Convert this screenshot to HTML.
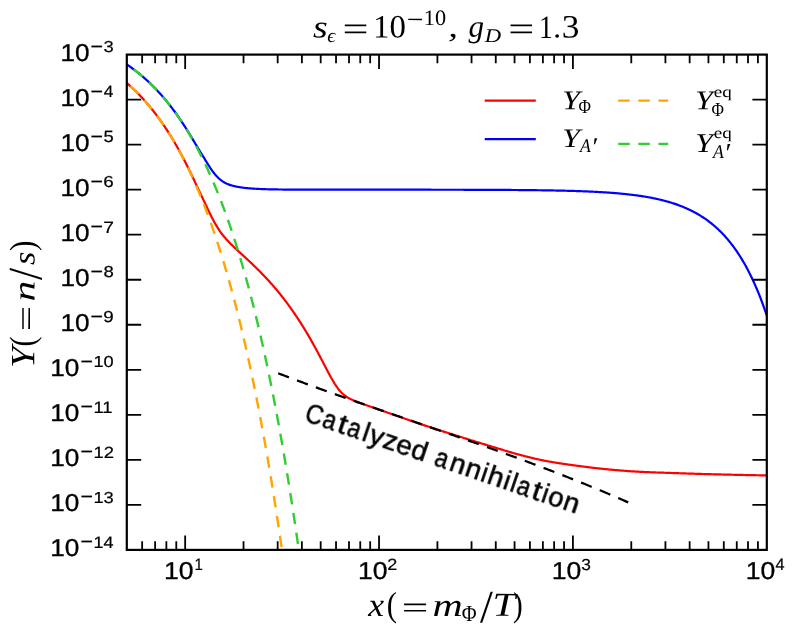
<!DOCTYPE html>
<html><head><meta charset="utf-8"><title>Y vs x</title>
<style>html,body{margin:0;padding:0;background:#fff;}svg{display:block;}body{font-family:"Liberation Sans",sans-serif;}text{text-rendering:geometricPrecision;}</style></head>
<body>
<svg width="798" height="635" viewBox="0 0 798 635">
<rect width="798" height="635" fill="#fff"/>
<defs><clipPath id="ax"><rect x="126.8" y="54.6" width="640.0" height="495.29999999999995"/></clipPath></defs>
<g clip-path="url(#ax)" fill="none" stroke-linejoin="round">
<path d="M126.80 83.07 L127.52 83.69 L128.23 84.31 L128.95 84.94 L129.66 85.58 L130.38 86.22 L131.09 86.87 L131.81 87.53 L132.52 88.20 L133.24 88.87 L133.96 89.55 L134.67 90.24 L135.39 90.93 L136.10 91.64 L136.82 92.35 L137.53 93.06 L138.25 93.79 L138.96 94.52 L139.68 95.26 L140.40 96.01 L141.11 96.77 L141.83 97.53 L142.54 98.30 L143.26 99.09 L143.97 99.88 L144.69 100.67 L145.40 101.48 L146.12 102.29 L146.84 103.12 L147.55 103.95 L148.27 104.79 L148.98 105.64 L149.70 106.50 L150.41 107.36 L151.13 108.24 L151.85 109.12 L152.56 110.02 L153.28 110.92 L153.99 111.83 L154.71 112.76 L155.42 113.69 L156.14 114.63 L156.85 115.58 L157.57 116.54 L158.29 117.51 L159.00 118.49 L159.72 119.49 L160.43 120.49 L161.15 121.50 L161.86 122.52 L162.58 123.55 L163.29 124.59 L164.01 125.64 L164.73 126.71 L165.44 127.78 L166.16 128.87 L166.87 129.96 L167.59 131.07 L168.30 132.19 L169.02 133.31 L169.73 134.45 L170.45 135.61 L171.17 136.77 L171.88 137.94 L172.60 139.13 L173.31 140.32 L174.03 141.53 L174.74 142.75 L175.46 143.98 L176.17 145.23 L176.89 146.48 L177.61 147.75 L178.32 149.03 L179.04 150.32 L179.75 151.62 L180.47 152.94 L181.18 154.27 L181.90 155.60 L182.61 156.96 L183.33 158.32 L184.05 159.69 L184.76 161.08 L185.48 162.48 L186.19 163.89 L186.91 165.31 L187.62 166.74 L188.34 168.18 L189.06 169.63 L189.77 171.10 L190.49 172.57 L191.20 174.05 L191.92 175.54 L192.63 177.04 L193.35 178.54 L194.06 180.06 L194.78 181.57 L195.50 183.10 L196.21 184.62 L196.93 186.15 L197.64 187.67 L198.36 189.20 L199.07 190.72 L199.79 192.24 L200.50 193.74 L201.22 195.24 L201.94 196.73 L202.65 198.20 L203.37 199.65 L204.08 201.11 L204.80 202.67 L205.51 204.23 L206.23 205.78 L206.94 207.32 L207.66 208.85 L208.38 210.36 L209.09 211.85 L209.81 213.33 L210.52 214.78 L211.24 216.21 L211.95 217.62 L212.67 219.00 L213.38 220.35 L214.10 221.67 L214.82 222.96 L215.53 224.21 L216.25 225.43 L216.96 226.62 L217.68 227.77 L218.39 228.89 L219.11 229.98 L219.82 231.03 L220.54 232.04 L221.26 233.03 L221.97 233.99 L222.69 234.92 L223.40 235.82 L224.12 236.70 L224.83 237.55 L225.55 238.38 L226.26 239.19 L226.98 239.98 L227.70 240.76 L228.41 241.52 L229.13 242.26 L229.84 242.99 L230.56 243.72 L231.27 244.43 L231.99 245.13 L232.71 245.83 L233.42 246.51 L234.14 247.20 L234.85 247.87 L235.57 248.54 L236.28 249.21 L237.00 249.88 L237.71 250.54 L238.43 251.20 L239.15 251.86 L239.86 252.52 L240.58 253.18 L241.29 253.83 L242.01 254.49 L242.72 255.14 L243.44 255.80 L244.15 256.46 L244.87 257.12 L245.59 257.78 L246.30 258.44 L247.02 259.10 L247.73 259.77 L248.45 260.44 L249.16 261.10 L249.88 261.78 L250.59 262.45 L251.31 263.13 L252.03 263.81 L252.74 264.49 L253.46 265.18 L254.17 265.87 L254.89 266.56 L255.60 267.26 L256.32 267.96 L257.03 268.66 L257.75 269.37 L258.47 270.08 L259.18 270.80 L259.90 271.52 L260.61 272.25 L261.33 272.98 L262.04 273.71 L262.76 274.45 L263.47 275.20 L264.19 275.95 L264.91 276.70 L265.62 277.46 L266.34 278.23 L267.05 279.00 L267.77 279.78 L268.48 280.56 L269.20 281.35 L269.92 282.14 L270.63 282.94 L271.35 283.75 L272.06 284.56 L272.78 285.38 L273.49 286.20 L274.21 287.03 L274.92 287.87 L275.64 288.71 L276.36 289.56 L277.07 290.42 L277.79 291.28 L278.50 292.15 L279.22 293.03 L279.93 293.91 L280.65 294.80 L281.36 295.70 L282.08 296.61 L282.80 297.52 L283.51 298.44 L284.23 299.37 L284.94 300.30 L285.66 301.24 L286.37 302.19 L287.09 303.15 L287.80 304.12 L288.52 305.09 L289.24 306.07 L289.95 307.06 L290.67 308.06 L291.38 309.07 L292.10 310.08 L292.81 311.11 L293.53 312.14 L294.24 313.18 L294.96 314.23 L295.68 315.28 L296.39 316.35 L297.11 317.42 L297.82 318.51 L298.54 319.60 L299.25 320.70 L299.97 321.81 L300.68 322.93 L301.40 324.06 L302.12 325.20 L302.83 326.35 L303.55 327.50 L304.26 328.67 L304.98 329.84 L305.69 331.03 L306.41 332.22 L307.13 333.42 L307.84 334.64 L308.56 335.86 L309.27 337.09 L309.99 338.33 L310.70 339.58 L311.42 340.84 L312.13 342.11 L312.85 343.39 L313.57 344.67 L314.28 345.97 L315.00 347.27 L315.71 348.58 L316.43 349.90 L317.14 351.23 L317.86 352.57 L318.57 353.91 L319.29 355.26 L320.01 356.61 L320.72 357.97 L321.44 359.34 L322.15 360.71 L322.87 362.08 L323.58 363.45 L324.30 364.83 L325.01 366.20 L325.73 367.57 L326.45 368.94 L327.16 370.30 L327.88 371.65 L328.59 373.00 L329.31 374.33 L330.02 375.65 L330.74 376.95 L331.45 378.23 L332.17 379.49 L332.89 380.72 L333.60 381.93 L334.32 383.10 L335.03 384.24 L335.75 385.34 L336.46 386.40 L337.18 387.42 L337.89 388.39 L338.61 389.32 L339.33 390.21 L340.04 391.05 L340.76 391.85 L341.47 392.60 L342.19 393.30 L342.90 393.97 L343.62 394.60 L344.33 395.18 L345.05 395.74 L345.77 396.25 L346.48 396.74 L347.20 397.20 L347.91 397.64 L348.63 398.05 L349.34 398.44 L350.06 398.81 L350.78 399.17 L351.49 399.51 L352.21 399.84 L352.92 400.16 L353.64 400.47 L354.35 400.76 L355.07 401.06 L355.78 401.34 L356.50 401.62 L357.22 401.89 L357.93 402.16 L358.65 402.43 L359.36 402.69 L360.08 402.95 L360.79 403.21 L361.51 403.47 L362.22 403.73 L362.94 403.98 L363.66 404.23 L364.37 404.48 L365.09 404.73 L365.80 404.98 L366.52 405.23 L367.23 405.48 L367.95 405.73 L368.66 405.98 L369.38 406.23 L370.10 406.47 L370.81 406.72 L371.53 406.97 L372.24 407.22 L372.96 407.46 L373.67 407.71 L374.39 407.96 L375.10 408.21 L375.82 408.45 L376.54 408.70 L377.25 408.95 L377.97 409.20 L378.68 409.44 L379.40 409.69 L380.11 409.94 L380.83 410.19 L381.54 410.44 L382.26 410.68 L382.98 410.93 L383.69 411.18 L384.41 411.43 L385.12 411.68 L385.84 411.93 L386.55 412.18 L387.27 412.43 L387.99 412.68 L388.70 412.93 L389.42 413.18 L390.13 413.43 L390.85 413.69 L391.56 413.94 L392.28 414.19 L392.99 414.44 L393.71 414.69 L394.43 414.94 L395.14 415.19 L395.86 415.44 L396.57 415.69 L397.29 415.95 L398.00 416.20 L398.72 416.45 L399.43 416.70 L400.15 416.95 L400.87 417.20 L401.58 417.45 L402.30 417.70 L403.01 417.95 L403.73 418.20 L404.44 418.45 L405.16 418.71 L405.87 418.96 L406.59 419.21 L407.31 419.45 L408.02 419.70 L408.74 419.95 L409.45 420.20 L410.17 420.45 L410.88 420.70 L411.60 420.95 L412.31 421.20 L413.03 421.44 L413.75 421.69 L414.46 421.94 L415.18 422.19 L415.89 422.43 L416.61 422.68 L417.32 422.92 L418.04 423.17 L418.75 423.41 L419.47 423.66 L420.19 423.90 L420.90 424.15 L421.62 424.39 L422.33 424.63 L423.05 424.87 L423.76 425.12 L424.48 425.36 L425.19 425.60 L425.91 425.84 L426.63 426.08 L427.34 426.32 L428.06 426.56 L428.77 426.79 L429.49 427.03 L430.20 427.27 L430.92 427.50 L431.64 427.74 L432.35 427.97 L433.07 428.21 L433.78 428.44 L434.50 428.67 L435.21 428.90 L435.93 429.13 L436.64 429.36 L437.36 429.59 L438.08 429.82 L438.79 430.05 L439.51 430.28 L440.22 430.50 L440.94 430.73 L441.65 430.96 L442.37 431.18 L443.08 431.41 L443.80 431.64 L444.52 431.86 L445.23 432.09 L445.95 432.32 L446.66 432.54 L447.38 432.77 L448.09 433.00 L448.81 433.22 L449.52 433.45 L450.24 433.68 L450.96 433.90 L451.67 434.13 L452.39 434.36 L453.10 434.58 L453.82 434.81 L454.53 435.04 L455.25 435.27 L455.96 435.49 L456.68 435.72 L457.40 435.94 L458.11 436.17 L458.83 436.40 L459.54 436.62 L460.26 436.85 L460.97 437.07 L461.69 437.30 L462.40 437.53 L463.12 437.75 L463.84 437.98 L464.55 438.20 L465.27 438.42 L465.98 438.65 L466.70 438.87 L467.41 439.10 L468.13 439.32 L468.85 439.54 L469.56 439.76 L470.28 439.99 L470.99 440.21 L471.71 440.43 L472.42 440.65 L473.14 440.87 L473.85 441.09 L474.57 441.32 L475.29 441.54 L476.00 441.76 L476.72 441.98 L477.43 442.20 L478.15 442.42 L478.86 442.64 L479.58 442.86 L480.29 443.08 L481.01 443.30 L481.73 443.52 L482.44 443.74 L483.16 443.95 L483.87 444.17 L484.59 444.39 L485.30 444.61 L486.02 444.83 L486.73 445.05 L487.45 445.26 L488.17 445.48 L488.88 445.70 L489.60 445.91 L490.31 446.13 L491.03 446.35 L491.74 446.56 L492.46 446.78 L493.17 446.99 L493.89 447.21 L494.61 447.42 L495.32 447.64 L496.04 447.85 L496.75 448.07 L497.47 448.28 L498.18 448.50 L498.90 448.72 L499.61 448.94 L500.33 449.15 L501.05 449.37 L501.76 449.59 L502.48 449.81 L503.19 450.03 L503.91 450.24 L504.62 450.46 L505.34 450.68 L506.06 450.90 L506.77 451.11 L507.49 451.33 L508.20 451.54 L508.92 451.76 L509.63 451.97 L510.35 452.18 L511.06 452.39 L511.78 452.60 L512.50 452.81 L513.21 453.02 L513.93 453.22 L514.64 453.43 L515.36 453.63 L516.07 453.83 L516.79 454.03 L517.50 454.23 L518.22 454.42 L518.94 454.61 L519.65 454.80 L520.37 454.99 L521.08 455.18 L521.80 455.36 L522.51 455.55 L523.23 455.73 L523.94 455.92 L524.66 456.10 L525.38 456.28 L526.09 456.47 L526.81 456.65 L527.52 456.83 L528.24 457.01 L528.95 457.19 L529.67 457.36 L530.38 457.54 L531.10 457.72 L531.82 457.89 L532.53 458.06 L533.25 458.23 L533.96 458.40 L534.68 458.57 L535.39 458.74 L536.11 458.90 L536.82 459.07 L537.54 459.23 L538.26 459.39 L538.97 459.54 L539.69 459.70 L540.40 459.85 L541.12 460.00 L541.83 460.15 L542.55 460.30 L543.26 460.44 L543.98 460.59 L544.70 460.73 L545.41 460.86 L546.13 461.00 L546.84 461.13 L547.56 461.26 L548.27 461.40 L548.99 461.52 L549.71 461.65 L550.42 461.78 L551.14 461.90 L551.85 462.03 L552.57 462.15 L553.28 462.27 L554.00 462.39 L554.71 462.50 L555.43 462.62 L556.15 462.74 L556.86 462.85 L557.58 462.96 L558.29 463.08 L559.01 463.19 L559.72 463.30 L560.44 463.41 L561.15 463.52 L561.87 463.62 L562.59 463.73 L563.30 463.83 L564.02 463.94 L564.73 464.04 L565.45 464.15 L566.16 464.25 L566.88 464.35 L567.59 464.45 L568.31 464.55 L569.03 464.65 L569.74 464.75 L570.46 464.85 L571.17 464.95 L571.89 465.05 L572.60 465.14 L573.32 465.24 L574.03 465.34 L574.75 465.44 L575.47 465.53 L576.18 465.63 L576.90 465.73 L577.61 465.82 L578.33 465.92 L579.04 466.01 L579.76 466.11 L580.47 466.20 L581.19 466.29 L581.91 466.39 L582.62 466.48 L583.34 466.57 L584.05 466.66 L584.77 466.76 L585.48 466.85 L586.20 466.94 L586.92 467.03 L587.63 467.12 L588.35 467.21 L589.06 467.29 L589.78 467.38 L590.49 467.47 L591.21 467.55 L591.92 467.64 L592.64 467.73 L593.36 467.81 L594.07 467.89 L594.79 467.98 L595.50 468.06 L596.22 468.14 L596.93 468.22 L597.65 468.30 L598.36 468.38 L599.08 468.46 L599.80 468.54 L600.51 468.62 L601.23 468.69 L601.94 468.77 L602.66 468.85 L603.37 468.92 L604.09 468.99 L604.80 469.06 L605.52 469.14 L606.24 469.21 L606.95 469.28 L607.67 469.35 L608.38 469.41 L609.10 469.48 L609.81 469.55 L610.53 469.61 L611.24 469.68 L611.96 469.74 L612.68 469.80 L613.39 469.87 L614.11 469.93 L614.82 469.99 L615.54 470.06 L616.25 470.12 L616.97 470.18 L617.68 470.24 L618.40 470.30 L619.12 470.36 L619.83 470.42 L620.55 470.48 L621.26 470.54 L621.98 470.60 L622.69 470.65 L623.41 470.71 L624.12 470.77 L624.84 470.82 L625.56 470.88 L626.27 470.93 L626.99 470.98 L627.70 471.04 L628.42 471.09 L629.13 471.14 L629.85 471.19 L630.57 471.24 L631.28 471.29 L632.00 471.33 L632.71 471.38 L633.43 471.43 L634.14 471.47 L634.86 471.52 L635.57 471.56 L636.29 471.60 L637.01 471.64 L637.72 471.68 L638.44 471.72 L639.15 471.76 L639.87 471.79 L640.58 471.83 L641.30 471.86 L642.01 471.90 L642.73 471.93 L643.45 471.96 L644.16 472.00 L644.88 472.03 L645.59 472.06 L646.31 472.09 L647.02 472.12 L647.74 472.15 L648.45 472.18 L649.17 472.21 L649.89 472.24 L650.60 472.27 L651.32 472.29 L652.03 472.32 L652.75 472.35 L653.46 472.38 L654.18 472.40 L654.89 472.43 L655.61 472.45 L656.33 472.48 L657.04 472.50 L657.76 472.53 L658.47 472.55 L659.19 472.58 L659.90 472.60 L660.62 472.63 L661.33 472.65 L662.05 472.67 L662.77 472.70 L663.48 472.72 L664.20 472.74 L664.91 472.77 L665.63 472.79 L666.34 472.81 L667.06 472.84 L667.78 472.86 L668.49 472.88 L669.21 472.91 L669.92 472.93 L670.64 472.95 L671.35 472.98 L672.07 473.00 L672.78 473.03 L673.50 473.05 L674.22 473.07 L674.93 473.10 L675.65 473.12 L676.36 473.15 L677.08 473.17 L677.79 473.20 L678.51 473.22 L679.22 473.24 L679.94 473.27 L680.66 473.29 L681.37 473.32 L682.09 473.34 L682.80 473.37 L683.52 473.39 L684.23 473.41 L684.95 473.44 L685.66 473.46 L686.38 473.49 L687.10 473.51 L687.81 473.53 L688.53 473.56 L689.24 473.58 L689.96 473.60 L690.67 473.63 L691.39 473.65 L692.10 473.67 L692.82 473.70 L693.54 473.72 L694.25 473.74 L694.97 473.77 L695.68 473.79 L696.40 473.81 L697.11 473.83 L697.83 473.85 L698.54 473.88 L699.26 473.90 L699.98 473.92 L700.69 473.94 L701.41 473.96 L702.12 473.98 L702.84 474.00 L703.55 474.02 L704.27 474.05 L704.99 474.07 L705.70 474.09 L706.42 474.10 L707.13 474.12 L707.85 474.14 L708.56 474.16 L709.28 474.18 L709.99 474.20 L710.71 474.22 L711.43 474.24 L712.14 474.25 L712.86 474.27 L713.57 474.29 L714.29 474.31 L715.00 474.33 L715.72 474.34 L716.43 474.36 L717.15 474.38 L717.87 474.40 L718.58 474.42 L719.30 474.43 L720.01 474.45 L720.73 474.47 L721.44 474.49 L722.16 474.50 L722.87 474.52 L723.59 474.54 L724.31 474.56 L725.02 474.57 L725.74 474.59 L726.45 474.61 L727.17 474.62 L727.88 474.64 L728.60 474.66 L729.31 474.67 L730.03 474.69 L730.75 474.71 L731.46 474.72 L732.18 474.74 L732.89 474.75 L733.61 474.77 L734.32 474.79 L735.04 474.80 L735.75 474.82 L736.47 474.83 L737.19 474.85 L737.90 474.87 L738.62 474.88 L739.33 474.90 L740.05 474.91 L740.76 474.93 L741.48 474.94 L742.19 474.96 L742.91 474.97 L743.63 474.99 L744.34 475.00 L745.06 475.01 L745.77 475.03 L746.49 475.04 L747.20 475.06 L747.92 475.07 L748.64 475.09 L749.35 475.10 L750.07 475.11 L750.78 475.13 L751.50 475.14 L752.21 475.15 L752.93 475.17 L753.64 475.18 L754.36 475.19 L755.08 475.21 L755.79 475.22 L756.51 475.23 L757.22 475.24 L757.94 475.26 L758.65 475.27 L759.37 475.28 L760.08 475.29 L760.80 475.31 L761.52 475.32 L762.23 475.33 L762.95 475.34 L763.66 475.35 L764.38 475.36 L765.09 475.37 L765.81 475.39 L766.52 475.40 L767.24 475.41 L767.96 475.42 L768.67 475.43 L769.39 475.44 L770.10 475.45" stroke="#ff0000" stroke-width="2.2"/>
<path d="M126.80 64.50 L127.52 64.98 L128.23 65.47 L128.95 65.96 L129.66 66.46 L130.38 66.96 L131.09 67.47 L131.81 67.99 L132.52 68.51 L133.24 69.04 L133.96 69.57 L134.67 70.11 L135.39 70.66 L136.10 71.21 L136.82 71.76 L137.53 72.33 L138.25 72.90 L138.96 73.47 L139.68 74.06 L140.40 74.65 L141.11 75.24 L141.83 75.84 L142.54 76.45 L143.26 77.07 L143.97 77.69 L144.69 78.32 L145.40 78.95 L146.12 79.60 L146.84 80.25 L147.55 80.90 L148.27 81.57 L148.98 82.24 L149.70 82.92 L150.41 83.60 L151.13 84.30 L151.85 85.00 L152.56 85.70 L153.28 86.42 L153.99 87.14 L154.71 87.87 L155.42 88.61 L156.14 89.36 L156.85 90.11 L157.57 90.88 L158.29 91.65 L159.00 92.43 L159.72 93.21 L160.43 94.01 L161.15 94.81 L161.86 95.62 L162.58 96.44 L163.29 97.27 L164.01 98.11 L164.73 98.96 L165.44 99.81 L166.16 100.67 L166.87 101.55 L167.59 102.43 L168.30 103.32 L169.02 104.22 L169.73 105.13 L170.45 106.04 L171.17 106.97 L171.88 107.91 L172.60 108.85 L173.31 109.81 L174.03 110.77 L174.74 111.75 L175.46 112.73 L176.17 113.73 L176.89 114.73 L177.61 115.74 L178.32 116.76 L179.04 117.80 L179.75 118.84 L180.47 119.89 L181.18 120.95 L181.90 122.02 L182.61 123.10 L183.33 124.19 L184.05 125.29 L184.76 126.40 L185.48 127.52 L186.19 128.64 L186.91 129.78 L187.62 130.92 L188.34 132.07 L189.06 133.23 L189.77 134.40 L190.49 135.57 L191.20 136.75 L191.92 137.94 L192.63 139.13 L193.35 140.33 L194.06 141.53 L194.78 142.73 L195.50 143.94 L196.21 145.14 L196.93 146.34 L197.64 147.55 L198.36 148.74 L199.07 149.93 L199.79 151.11 L200.50 152.29 L201.22 153.44 L201.94 154.59 L202.65 155.71 L203.37 156.81 L204.08 157.92 L204.80 159.13 L205.51 160.33 L206.23 161.52 L206.94 162.69 L207.66 163.85 L208.38 164.99 L209.09 166.11 L209.81 167.21 L210.52 168.29 L211.24 169.33 L211.95 170.35 L212.67 171.34 L213.38 172.30 L214.10 173.22 L214.82 174.11 L215.53 174.96 L216.25 175.77 L216.96 176.54 L217.68 177.28 L218.39 177.98 L219.11 178.64 L219.82 179.27 L220.54 179.86 L221.26 180.41 L221.97 180.93 L222.69 181.42 L223.40 181.88 L224.12 182.30 L224.83 182.70 L225.55 183.08 L226.26 183.43 L226.98 183.76 L227.70 184.06 L228.41 184.35 L229.13 184.62 L229.84 184.87 L230.56 185.11 L231.27 185.33 L231.99 185.54 L232.71 185.74 L233.42 185.92 L234.14 186.10 L234.85 186.27 L235.57 186.42 L236.28 186.57 L237.00 186.72 L237.71 186.85 L238.43 186.98 L239.15 187.10 L239.86 187.22 L240.58 187.33 L241.29 187.43 L242.01 187.53 L242.72 187.63 L243.44 187.72 L244.15 187.80 L244.87 187.89 L245.59 187.97 L246.30 188.04 L247.02 188.12 L247.73 188.19 L248.45 188.25 L249.16 188.32 L249.88 188.38 L250.59 188.43 L251.31 188.49 L252.03 188.54 L252.74 188.59 L253.46 188.64 L254.17 188.69 L254.89 188.73 L255.60 188.77 L256.32 188.82 L257.03 188.85 L257.75 188.89 L258.47 188.93 L259.18 188.96 L259.90 188.99 L260.61 189.02 L261.33 189.05 L262.04 189.08 L262.76 189.11 L263.47 189.13 L264.19 189.16 L264.91 189.18 L265.62 189.21 L266.34 189.23 L267.05 189.25 L267.77 189.27 L268.48 189.29 L269.20 189.30 L269.92 189.32 L270.63 189.34 L271.35 189.35 L272.06 189.37 L272.78 189.38 L273.49 189.40 L274.21 189.41 L274.92 189.42 L275.64 189.43 L276.36 189.44 L277.07 189.46 L277.79 189.47 L278.50 189.48 L279.22 189.49 L279.93 189.49 L280.65 189.50 L281.36 189.51 L282.08 189.52 L282.80 189.53 L283.51 189.53 L284.23 189.54 L284.94 189.55 L285.66 189.55 L286.37 189.56 L287.09 189.56 L287.80 189.57 L288.52 189.58 L289.24 189.58 L289.95 189.58 L290.67 189.59 L291.38 189.59 L292.10 189.60 L292.81 189.60 L293.53 189.61 L294.24 189.61 L294.96 189.61 L295.68 189.62 L296.39 189.62 L297.11 189.62 L297.82 189.62 L298.54 189.63 L299.25 189.63 L299.97 189.63 L300.68 189.63 L301.40 189.64 L302.12 189.64 L302.83 189.64 L303.55 189.64 L304.26 189.65 L304.98 189.65 L305.69 189.65 L306.41 189.65 L307.13 189.65 L307.84 189.65 L308.56 189.65 L309.27 189.66 L309.99 189.66 L310.70 189.66 L311.42 189.66 L312.13 189.66 L312.85 189.66 L313.57 189.66 L314.28 189.66 L315.00 189.67 L315.71 189.67 L316.43 189.67 L317.14 189.67 L317.86 189.67 L318.57 189.67 L319.29 189.67 L320.01 189.67 L320.72 189.67 L321.44 189.67 L322.15 189.67 L322.87 189.67 L323.58 189.67 L324.30 189.67 L325.01 189.68 L325.73 189.68 L326.45 189.68 L327.16 189.68 L327.88 189.68 L328.59 189.68 L329.31 189.68 L330.02 189.68 L330.74 189.68 L331.45 189.68 L332.17 189.68 L332.89 189.68 L333.60 189.68 L334.32 189.68 L335.03 189.68 L335.75 189.68 L336.46 189.68 L337.18 189.68 L337.89 189.68 L338.61 189.68 L339.33 189.68 L340.04 189.68 L340.76 189.68 L341.47 189.68 L342.19 189.68 L342.90 189.68 L343.62 189.68 L344.33 189.68 L345.05 189.68 L345.77 189.68 L346.48 189.69 L347.20 189.69 L347.91 189.69 L348.63 189.69 L349.34 189.69 L350.06 189.69 L350.78 189.69 L351.49 189.69 L352.21 189.69 L352.92 189.69 L353.64 189.69 L354.35 189.69 L355.07 189.69 L355.78 189.69 L356.50 189.69 L357.22 189.69 L357.93 189.69 L358.65 189.69 L359.36 189.69 L360.08 189.69 L360.79 189.69 L361.51 189.69 L362.22 189.69 L362.94 189.69 L363.66 189.69 L364.37 189.69 L365.09 189.69 L365.80 189.69 L366.52 189.69 L367.23 189.69 L367.95 189.69 L368.66 189.69 L369.38 189.69 L370.10 189.69 L370.81 189.69 L371.53 189.69 L372.24 189.69 L372.96 189.69 L373.67 189.69 L374.39 189.69 L375.10 189.69 L375.82 189.69 L376.54 189.69 L377.25 189.69 L377.97 189.69 L378.68 189.69 L379.40 189.69 L380.11 189.69 L380.83 189.69 L381.54 189.69 L382.26 189.70 L382.98 189.70 L383.69 189.70 L384.41 189.70 L385.12 189.70 L385.84 189.70 L386.55 189.70 L387.27 189.70 L387.99 189.70 L388.70 189.70 L389.42 189.70 L390.13 189.70 L390.85 189.70 L391.56 189.70 L392.28 189.70 L392.99 189.70 L393.71 189.70 L394.43 189.70 L395.14 189.70 L395.86 189.70 L396.57 189.70 L397.29 189.70 L398.00 189.70 L398.72 189.70 L399.43 189.70 L400.15 189.70 L400.87 189.70 L401.58 189.70 L402.30 189.70 L403.01 189.70 L403.73 189.70 L404.44 189.70 L405.16 189.71 L405.87 189.71 L406.59 189.71 L407.31 189.71 L408.02 189.71 L408.74 189.71 L409.45 189.71 L410.17 189.71 L410.88 189.71 L411.60 189.71 L412.31 189.71 L413.03 189.71 L413.75 189.71 L414.46 189.71 L415.18 189.71 L415.89 189.71 L416.61 189.71 L417.32 189.71 L418.04 189.71 L418.75 189.71 L419.47 189.71 L420.19 189.72 L420.90 189.72 L421.62 189.72 L422.33 189.72 L423.05 189.72 L423.76 189.72 L424.48 189.72 L425.19 189.72 L425.91 189.72 L426.63 189.72 L427.34 189.72 L428.06 189.72 L428.77 189.72 L429.49 189.72 L430.20 189.72 L430.92 189.72 L431.64 189.73 L432.35 189.73 L433.07 189.73 L433.78 189.73 L434.50 189.73 L435.21 189.73 L435.93 189.73 L436.64 189.73 L437.36 189.73 L438.08 189.73 L438.79 189.73 L439.51 189.73 L440.22 189.74 L440.94 189.74 L441.65 189.74 L442.37 189.74 L443.08 189.74 L443.80 189.74 L444.52 189.74 L445.23 189.74 L445.95 189.74 L446.66 189.74 L447.38 189.75 L448.09 189.75 L448.81 189.75 L449.52 189.75 L450.24 189.75 L450.96 189.75 L451.67 189.75 L452.39 189.75 L453.10 189.75 L453.82 189.76 L454.53 189.76 L455.25 189.76 L455.96 189.76 L456.68 189.76 L457.40 189.76 L458.11 189.76 L458.83 189.77 L459.54 189.77 L460.26 189.77 L460.97 189.77 L461.69 189.77 L462.40 189.77 L463.12 189.77 L463.84 189.78 L464.55 189.78 L465.27 189.78 L465.98 189.78 L466.70 189.78 L467.41 189.78 L468.13 189.79 L468.85 189.79 L469.56 189.79 L470.28 189.79 L470.99 189.79 L471.71 189.80 L472.42 189.80 L473.14 189.80 L473.85 189.80 L474.57 189.80 L475.29 189.81 L476.00 189.81 L476.72 189.81 L477.43 189.81 L478.15 189.81 L478.86 189.82 L479.58 189.82 L480.29 189.82 L481.01 189.82 L481.73 189.83 L482.44 189.83 L483.16 189.83 L483.87 189.83 L484.59 189.84 L485.30 189.84 L486.02 189.84 L486.73 189.84 L487.45 189.85 L488.17 189.85 L488.88 189.85 L489.60 189.86 L490.31 189.86 L491.03 189.86 L491.74 189.86 L492.46 189.87 L493.17 189.87 L493.89 189.87 L494.61 189.88 L495.32 189.88 L496.04 189.88 L496.75 189.89 L497.47 189.89 L498.18 189.90 L498.90 189.90 L499.61 189.90 L500.33 189.91 L501.05 189.91 L501.76 189.91 L502.48 189.92 L503.19 189.92 L503.91 189.93 L504.62 189.93 L505.34 189.93 L506.06 189.94 L506.77 189.94 L507.49 189.95 L508.20 189.95 L508.92 189.96 L509.63 189.96 L510.35 189.97 L511.06 189.97 L511.78 189.98 L512.50 189.98 L513.21 189.99 L513.93 189.99 L514.64 190.00 L515.36 190.00 L516.07 190.01 L516.79 190.01 L517.50 190.02 L518.22 190.03 L518.94 190.03 L519.65 190.04 L520.37 190.04 L521.08 190.05 L521.80 190.06 L522.51 190.06 L523.23 190.07 L523.94 190.08 L524.66 190.08 L525.38 190.09 L526.09 190.10 L526.81 190.10 L527.52 190.11 L528.24 190.12 L528.95 190.12 L529.67 190.13 L530.38 190.14 L531.10 190.15 L531.82 190.16 L532.53 190.16 L533.25 190.17 L533.96 190.18 L534.68 190.19 L535.39 190.20 L536.11 190.21 L536.82 190.22 L537.54 190.23 L538.26 190.23 L538.97 190.24 L539.69 190.25 L540.40 190.26 L541.12 190.27 L541.83 190.28 L542.55 190.29 L543.26 190.30 L543.98 190.31 L544.70 190.33 L545.41 190.34 L546.13 190.35 L546.84 190.36 L547.56 190.37 L548.27 190.38 L548.99 190.39 L549.71 190.41 L550.42 190.42 L551.14 190.43 L551.85 190.45 L552.57 190.46 L553.28 190.47 L554.00 190.49 L554.71 190.50 L555.43 190.51 L556.15 190.53 L556.86 190.54 L557.58 190.56 L558.29 190.57 L559.01 190.59 L559.72 190.60 L560.44 190.62 L561.15 190.63 L561.87 190.65 L562.59 190.67 L563.30 190.68 L564.02 190.70 L564.73 190.72 L565.45 190.74 L566.16 190.75 L566.88 190.77 L567.59 190.79 L568.31 190.81 L569.03 190.83 L569.74 190.85 L570.46 190.87 L571.17 190.89 L571.89 190.91 L572.60 190.93 L573.32 190.95 L574.03 190.97 L574.75 191.00 L575.47 191.02 L576.18 191.04 L576.90 191.07 L577.61 191.09 L578.33 191.11 L579.04 191.14 L579.76 191.16 L580.47 191.19 L581.19 191.21 L581.91 191.24 L582.62 191.27 L583.34 191.29 L584.05 191.32 L584.77 191.35 L585.48 191.38 L586.20 191.41 L586.92 191.44 L587.63 191.47 L588.35 191.50 L589.06 191.53 L589.78 191.56 L590.49 191.59 L591.21 191.63 L591.92 191.66 L592.64 191.69 L593.36 191.73 L594.07 191.76 L594.79 191.80 L595.50 191.83 L596.22 191.87 L596.93 191.91 L597.65 191.95 L598.36 191.99 L599.08 192.03 L599.80 192.07 L600.51 192.11 L601.23 192.15 L601.94 192.19 L602.66 192.23 L603.37 192.28 L604.09 192.32 L604.80 192.37 L605.52 192.41 L606.24 192.46 L606.95 192.51 L607.67 192.56 L608.38 192.60 L609.10 192.66 L609.81 192.71 L610.53 192.76 L611.24 192.81 L611.96 192.86 L612.68 192.92 L613.39 192.97 L614.11 193.03 L614.82 193.09 L615.54 193.15 L616.25 193.21 L616.97 193.27 L617.68 193.33 L618.40 193.39 L619.12 193.45 L619.83 193.52 L620.55 193.58 L621.26 193.65 L621.98 193.72 L622.69 193.79 L623.41 193.86 L624.12 193.93 L624.84 194.00 L625.56 194.08 L626.27 194.15 L626.99 194.23 L627.70 194.31 L628.42 194.39 L629.13 194.47 L629.85 194.55 L630.57 194.63 L631.28 194.72 L632.00 194.80 L632.71 194.89 L633.43 194.98 L634.14 195.07 L634.86 195.16 L635.57 195.26 L636.29 195.35 L637.01 195.45 L637.72 195.55 L638.44 195.65 L639.15 195.75 L639.87 195.86 L640.58 195.96 L641.30 196.07 L642.01 196.18 L642.73 196.29 L643.45 196.40 L644.16 196.52 L644.88 196.64 L645.59 196.76 L646.31 196.88 L647.02 197.00 L647.74 197.13 L648.45 197.25 L649.17 197.38 L649.89 197.52 L650.60 197.65 L651.32 197.79 L652.03 197.93 L652.75 198.07 L653.46 198.21 L654.18 198.36 L654.89 198.51 L655.61 198.66 L656.33 198.81 L657.04 198.97 L657.76 199.13 L658.47 199.29 L659.19 199.45 L659.90 199.62 L660.62 199.79 L661.33 199.96 L662.05 200.14 L662.77 200.32 L663.48 200.50 L664.20 200.69 L664.91 200.88 L665.63 201.07 L666.34 201.26 L667.06 201.46 L667.78 201.66 L668.49 201.87 L669.21 202.08 L669.92 202.29 L670.64 202.51 L671.35 202.73 L672.07 202.95 L672.78 203.18 L673.50 203.41 L674.22 203.64 L674.93 203.88 L675.65 204.13 L676.36 204.37 L677.08 204.63 L677.79 204.88 L678.51 205.14 L679.22 205.41 L679.94 205.68 L680.66 205.95 L681.37 206.23 L682.09 206.52 L682.80 206.80 L683.52 207.10 L684.23 207.40 L684.95 207.70 L685.66 208.01 L686.38 208.32 L687.10 208.64 L687.81 208.97 L688.53 209.30 L689.24 209.63 L689.96 209.98 L690.67 210.32 L691.39 210.68 L692.10 211.04 L692.82 211.40 L693.54 211.78 L694.25 212.15 L694.97 212.54 L695.68 212.93 L696.40 213.33 L697.11 213.74 L697.83 214.15 L698.54 214.57 L699.26 214.99 L699.98 215.43 L700.69 215.87 L701.41 216.32 L702.12 216.77 L702.84 217.24 L703.55 217.71 L704.27 218.19 L704.99 218.68 L705.70 219.18 L706.42 219.68 L707.13 220.20 L707.85 220.72 L708.56 221.25 L709.28 221.79 L709.99 222.34 L710.71 222.90 L711.43 223.47 L712.14 224.05 L712.86 224.64 L713.57 225.24 L714.29 225.85 L715.00 226.47 L715.72 227.10 L716.43 227.74 L717.15 228.40 L717.87 229.06 L718.58 229.73 L719.30 230.42 L720.01 231.12 L720.73 231.83 L721.44 232.55 L722.16 233.29 L722.87 234.03 L723.59 234.80 L724.31 235.57 L725.02 236.36 L725.74 237.16 L726.45 237.97 L727.17 238.80 L727.88 239.64 L728.60 240.50 L729.31 241.37 L730.03 242.25 L730.75 243.15 L731.46 244.07 L732.18 245.00 L732.89 245.95 L733.61 246.92 L734.32 247.90 L735.04 248.89 L735.75 249.91 L736.47 250.94 L737.19 251.99 L737.90 253.06 L738.62 254.15 L739.33 255.25 L740.05 256.38 L740.76 257.52 L741.48 258.68 L742.19 259.86 L742.91 261.07 L743.63 262.29 L744.34 263.54 L745.06 264.80 L745.77 266.09 L746.49 267.40 L747.20 268.73 L747.92 270.09 L748.64 271.46 L749.35 272.87 L750.07 274.29 L750.78 275.74 L751.50 277.22 L752.21 278.72 L752.93 280.25 L753.64 281.80 L754.36 283.38 L755.08 284.98 L755.79 286.62 L756.51 288.28 L757.22 289.97 L757.94 291.69 L758.65 293.44 L759.37 295.21 L760.08 297.02 L760.80 298.86 L761.52 300.74 L762.23 302.64 L762.95 304.58 L763.66 306.55 L764.38 308.55 L765.09 310.59 L765.81 312.66 L766.52 314.77 L767.24 316.91 L767.96 319.09 L768.67 321.31 L769.39 323.57 L770.10 325.86" stroke="#0000ff" stroke-width="2.2"/>
<path d="M126.80 83.07 L127.52 83.69 L128.23 84.31 L128.95 84.94 L129.66 85.58 L130.38 86.22 L131.09 86.88 L131.81 87.53 L132.52 88.20 L133.24 88.87 L133.96 89.55 L134.67 90.24 L135.39 90.94 L136.10 91.64 L136.82 92.35 L137.53 93.07 L138.25 93.79 L138.96 94.52 L139.68 95.26 L140.40 96.01 L141.11 96.77 L141.83 97.54 L142.54 98.31 L143.26 99.09 L143.97 99.88 L144.69 100.68 L145.40 101.48 L146.12 102.30 L146.84 103.12 L147.55 103.95 L148.27 104.79 L148.98 105.64 L149.70 106.50 L150.41 107.37 L151.13 108.24 L151.85 109.13 L152.56 110.03 L153.28 110.93 L153.99 111.84 L154.71 112.77 L155.42 113.70 L156.14 114.64 L156.85 115.59 L157.57 116.55 L158.29 117.52 L159.00 118.51 L159.72 119.50 L160.43 120.50 L161.15 121.51 L161.86 122.53 L162.58 123.57 L163.29 124.61 L164.01 125.66 L164.73 126.73 L165.44 127.80 L166.16 128.89 L166.87 129.99 L167.59 131.10 L168.30 132.22 L169.02 133.35 L169.73 134.49 L170.45 135.64 L171.17 136.81 L171.88 137.99 L172.60 139.18 L173.31 140.38 L174.03 141.59 L174.74 142.82 L175.46 144.05 L176.17 145.30 L176.89 146.56 L177.61 147.84 L178.32 149.13 L179.04 150.43 L179.75 151.74 L180.47 153.07 L181.18 154.41 L181.90 155.76 L182.61 157.12 L183.33 158.50 L184.05 159.90 L184.76 161.30 L185.48 162.72 L186.19 164.16 L186.91 165.61 L187.62 167.07 L188.34 168.55 L189.06 170.04 L189.77 171.54 L190.49 173.07 L191.20 174.60 L191.92 176.15 L192.63 177.72 L193.35 179.30 L194.06 180.90 L194.78 182.51 L195.50 184.13 L196.21 185.78 L196.93 187.44 L197.64 189.11 L198.36 190.80 L199.07 192.51 L199.79 194.24 L200.50 195.98 L201.22 197.73 L201.94 199.51 L202.65 201.30 L203.37 203.11 L204.08 204.94 L204.80 206.78 L205.51 208.64 L206.23 210.52 L206.94 212.42 L207.66 214.33 L208.38 216.26 L209.09 218.22 L209.81 220.19 L210.52 222.18 L211.24 224.18 L211.95 226.21 L212.67 228.26 L213.38 230.32 L214.10 232.41 L214.82 234.51 L215.53 236.64 L216.25 238.79 L216.96 240.95 L217.68 243.14 L218.39 245.34 L219.11 247.57 L219.82 249.82 L220.54 252.09 L221.26 254.38 L221.97 256.69 L222.69 259.03 L223.40 261.38 L224.12 263.76 L224.83 266.16 L225.55 268.58 L226.26 271.03 L226.98 273.50 L227.70 275.99 L228.41 278.50 L229.13 281.04 L229.84 283.60 L230.56 286.19 L231.27 288.80 L231.99 291.43 L232.71 294.09 L233.42 296.78 L234.14 299.48 L234.85 302.22 L235.57 304.98 L236.28 307.76 L237.00 310.57 L237.71 313.41 L238.43 316.27 L239.15 319.16 L239.86 322.07 L240.58 325.02 L241.29 327.99 L242.01 330.98 L242.72 334.01 L243.44 337.06 L244.15 340.14 L244.87 343.25 L245.59 346.39 L246.30 349.55 L247.02 352.75 L247.73 355.97 L248.45 359.23 L249.16 362.51 L249.88 365.82 L250.59 369.17 L251.31 372.54 L252.03 375.95 L252.74 379.39 L253.46 382.86 L254.17 386.36 L254.89 389.89 L255.60 393.45 L256.32 397.05 L257.03 400.68 L257.75 404.34 L258.47 408.04 L259.18 411.77 L259.90 415.53 L260.61 419.33 L261.33 423.16 L262.04 427.03 L262.76 430.93 L263.47 434.87 L264.19 438.84 L264.91 442.85 L265.62 446.90 L266.34 450.98 L267.05 455.10 L267.77 459.25 L268.48 463.45 L269.20 467.68 L269.92 471.95 L270.63 476.26 L271.35 480.61 L272.06 484.99 L272.78 489.42 L273.49 493.89 L274.21 498.39 L274.92 502.94 L275.64 507.53 L276.36 512.16 L277.07 516.83 L277.79 521.54 L278.50 526.30 L279.22 531.10 L279.93 535.94 L280.65 540.82 L281.36 545.75 L282.08 550.72 L282.80 555.74 L283.51 560.80 L284.23 565.91 L284.94 571.06 L285.66 576.26 L286.37 581.51 L287.09 586.80 L287.80 592.14 L288.52 597.53 L289.24 602.96 L289.95 608.45 L290.67 613.98 L291.38 619.56 L292.10 625.20 L292.81 630.88 L293.53 636.61 L294.24 642.40 L294.96 648.23 L295.68 654.12 L296.39 660.06 L297.11 666.05 L297.82 672.10 L298.54 678.20 L299.25 684.35 L299.97 690.56 L300.68 696.83 L301.40 703.15 L302.12 709.52 L302.83 715.96 L303.55 722.45 L304.26 728.99 L304.98 735.60 L305.69 742.26 L306.41 748.99 L307.13 755.77 L307.84 762.61 L308.56 769.51 L309.27 776.48 L309.99 783.50 L310.70 790.59 L311.42 797.74" stroke="#ffa500" stroke-width="2.4" stroke-dasharray="11.46 8.59" stroke-dashoffset="15.5"/>
<path d="M126.80 64.50 L127.52 64.98 L128.23 65.47 L128.95 65.96 L129.66 66.46 L130.38 66.97 L131.09 67.48 L131.81 67.99 L132.52 68.51 L133.24 69.04 L133.96 69.57 L134.67 70.11 L135.39 70.66 L136.10 71.21 L136.82 71.77 L137.53 72.33 L138.25 72.90 L138.96 73.48 L139.68 74.06 L140.40 74.65 L141.11 75.24 L141.83 75.85 L142.54 76.46 L143.26 77.07 L143.97 77.69 L144.69 78.32 L145.40 78.96 L146.12 79.60 L146.84 80.25 L147.55 80.91 L148.27 81.57 L148.98 82.24 L149.70 82.92 L150.41 83.61 L151.13 84.30 L151.85 85.00 L152.56 85.71 L153.28 86.43 L153.99 87.15 L154.71 87.88 L155.42 88.62 L156.14 89.37 L156.85 90.12 L157.57 90.89 L158.29 91.66 L159.00 92.44 L159.72 93.23 L160.43 94.02 L161.15 94.83 L161.86 95.64 L162.58 96.46 L163.29 97.29 L164.01 98.13 L164.73 98.98 L165.44 99.83 L166.16 100.70 L166.87 101.57 L167.59 102.46 L168.30 103.35 L169.02 104.25 L169.73 105.16 L170.45 106.08 L171.17 107.01 L171.88 107.95 L172.60 108.90 L173.31 109.86 L174.03 110.83 L174.74 111.81 L175.46 112.80 L176.17 113.80 L176.89 114.81 L177.61 115.83 L178.32 116.86 L179.04 117.90 L179.75 118.95 L180.47 120.02 L181.18 121.09 L181.90 122.17 L182.61 123.27 L183.33 124.38 L184.05 125.49 L184.76 126.62 L185.48 127.76 L186.19 128.91 L186.91 130.08 L187.62 131.25 L188.34 132.44 L189.06 133.64 L189.77 134.85 L190.49 136.07 L191.20 137.30 L191.92 138.55 L192.63 139.81 L193.35 141.08 L194.06 142.37 L194.78 143.66 L195.50 144.98 L196.21 146.30 L196.93 147.64 L197.64 148.98 L198.36 150.35 L199.07 151.72 L199.79 153.11 L200.50 154.52 L201.22 155.94 L201.94 157.37 L202.65 158.81 L203.37 160.27 L204.08 161.75 L204.80 163.24 L205.51 164.74 L206.23 166.26 L206.94 167.79 L207.66 169.34 L208.38 170.90 L209.09 172.48 L209.81 174.07 L210.52 175.68 L211.24 177.30 L211.95 178.94 L212.67 180.60 L213.38 182.27 L214.10 183.96 L214.82 185.66 L215.53 187.38 L216.25 189.12 L216.96 190.87 L217.68 192.65 L218.39 194.43 L219.11 196.24 L219.82 198.06 L220.54 199.90 L221.26 201.76 L221.97 203.63 L222.69 205.53 L223.40 207.44 L224.12 209.37 L224.83 211.32 L225.55 213.28 L226.26 215.27 L226.98 217.27 L227.70 219.30 L228.41 221.34 L229.13 223.40 L229.84 225.48 L230.56 227.58 L231.27 229.70 L231.99 231.84 L232.71 234.00 L233.42 236.19 L234.14 238.39 L234.85 240.61 L235.57 242.86 L236.28 245.12 L237.00 247.41 L237.71 249.71 L238.43 252.04 L239.15 254.40 L239.86 256.77 L240.58 259.16 L241.29 261.58 L242.01 264.02 L242.72 266.49 L243.44 268.97 L244.15 271.48 L244.87 274.02 L245.59 276.57 L246.30 279.15 L247.02 281.76 L247.73 284.39 L248.45 287.04 L249.16 289.72 L249.88 292.42 L250.59 295.15 L251.31 297.90 L252.03 300.68 L252.74 303.49 L253.46 306.32 L254.17 309.17 L254.89 312.06 L255.60 314.97 L256.32 317.90 L257.03 320.87 L257.75 323.86 L258.47 326.88 L259.18 329.92 L259.90 333.00 L260.61 336.10 L261.33 339.23 L262.04 342.39 L262.76 345.58 L263.47 348.80 L264.19 352.05 L264.91 355.33 L265.62 358.63 L266.34 361.97 L267.05 365.34 L267.77 368.74 L268.48 372.17 L269.20 375.63 L269.92 379.13 L270.63 382.65 L271.35 386.21 L272.06 389.80 L272.78 393.42 L273.49 397.08 L274.21 400.77 L274.92 404.49 L275.64 408.25 L276.36 412.04 L277.07 415.86 L277.79 419.72 L278.50 423.62 L279.22 427.55 L279.93 431.51 L280.65 435.51 L281.36 439.55 L282.08 443.63 L282.80 447.74 L283.51 451.89 L284.23 456.07 L284.94 460.30 L285.66 464.56 L286.37 468.86 L287.09 473.20 L287.80 477.58 L288.52 481.99 L289.24 486.45 L289.95 490.95 L290.67 495.49 L291.38 500.07 L292.10 504.69 L292.81 509.35 L293.53 514.05 L294.24 518.80 L294.96 523.59 L295.68 528.42 L296.39 533.30 L297.11 538.22 L297.82 543.18 L298.54 548.19 L299.25 553.24 L299.97 558.34 L300.68 563.48 L301.40 568.67 L302.12 573.91 L302.83 579.19 L303.55 584.52 L304.26 589.90 L304.98 595.32 L305.69 600.80 L306.41 606.32 L307.13 611.89 L307.84 617.51 L308.56 623.18 L309.27 628.91 L309.99 634.68 L310.70 640.51 L311.42 646.38" stroke="#32cd32" stroke-width="2.4" stroke-dasharray="11.45 8.585" stroke-dashoffset="11.7"/>
<path d="M278.20 373.30 L279.96 373.97 L281.72 374.64 L283.48 375.31 L285.24 375.97 L286.99 376.64 L288.75 377.30 L290.51 377.96 L292.27 378.62 L294.03 379.28 L295.79 379.94 L297.55 380.59 L299.31 381.24 L301.06 381.89 L302.82 382.54 L304.58 383.19 L306.34 383.83 L308.10 384.48 L309.86 385.12 L311.62 385.76 L313.38 386.40 L315.13 387.04 L316.89 387.68 L318.65 388.32 L320.41 388.96 L322.17 389.59 L323.93 390.23 L325.69 390.86 L327.45 391.49 L329.21 392.12 L330.96 392.75 L332.72 393.38 L334.48 394.01 L336.24 394.64 L338.00 395.26 L339.76 395.89 L341.52 396.51 L343.28 397.14 L345.03 397.76 L346.79 398.38 L348.55 399.00 L350.31 399.62 L352.07 400.23 L353.83 400.85 L355.59 401.46 L357.35 402.07 L359.10 402.68 L360.86 403.29 L362.62 403.90 L364.38 404.51 L366.14 405.11 L367.90 405.72 L369.66 406.33 L371.42 406.93 L373.17 407.54 L374.93 408.15 L376.69 408.76 L378.45 409.36 L380.21 409.97 L381.97 410.58 L383.73 411.19 L385.49 411.80 L387.25 412.41 L389.00 413.02 L390.76 413.63 L392.52 414.23 L394.28 414.84 L396.04 415.45 L397.80 416.06 L399.56 416.67 L401.32 417.28 L403.07 417.88 L404.83 418.49 L406.59 419.10 L408.35 419.71 L410.11 420.31 L411.87 420.92 L413.63 421.53 L415.39 422.14 L417.14 422.75 L418.90 423.36 L420.66 423.97 L422.42 424.57 L424.18 425.18 L425.94 425.79 L427.70 426.40 L429.46 427.01 L431.22 427.62 L432.97 428.23 L434.73 428.84 L436.49 429.45 L438.25 430.06 L440.01 430.66 L441.77 431.27 L443.53 431.88 L445.29 432.49 L447.04 433.10 L448.80 433.71 L450.56 434.32 L452.32 434.93 L454.08 435.54 L455.84 436.15 L457.60 436.76 L459.36 437.37 L461.11 437.98 L462.87 438.60 L464.63 439.21 L466.39 439.83 L468.15 440.45 L469.91 441.07 L471.67 441.69 L473.43 442.31 L475.18 442.93 L476.94 443.55 L478.70 444.17 L480.46 444.79 L482.22 445.41 L483.98 446.03 L485.74 446.66 L487.50 447.28 L489.26 447.90 L491.01 448.53 L492.77 449.15 L494.53 449.78 L496.29 450.41 L498.05 451.04 L499.81 451.66 L501.57 452.30 L503.33 452.93 L505.08 453.56 L506.84 454.20 L508.60 454.83 L510.36 455.47 L512.12 456.11 L513.88 456.75 L515.64 457.40 L517.40 458.04 L519.15 458.69 L520.91 459.34 L522.67 459.99 L524.43 460.64 L526.19 461.30 L527.95 461.95 L529.71 462.61 L531.47 463.27 L533.23 463.93 L534.98 464.59 L536.74 465.26 L538.50 465.92 L540.26 466.59 L542.02 467.26 L543.78 467.93 L545.54 468.60 L547.30 469.28 L549.05 469.95 L550.81 470.63 L552.57 471.31 L554.33 471.99 L556.09 472.68 L557.85 473.36 L559.61 474.05 L561.37 474.73 L563.12 475.42 L564.88 476.11 L566.64 476.81 L568.40 477.50 L570.16 478.20 L571.92 478.90 L573.68 479.59 L575.44 480.30 L577.19 481.00 L578.95 481.70 L580.71 482.41 L582.47 483.12 L584.23 483.83 L585.99 484.54 L587.75 485.26 L589.51 485.98 L591.27 486.69 L593.02 487.42 L594.78 488.14 L596.54 488.87 L598.30 489.59 L600.06 490.32 L601.82 491.06 L603.58 491.80 L605.34 492.54 L607.09 493.28 L608.85 494.02 L610.61 494.77 L612.37 495.52 L614.13 496.28 L615.89 497.04 L617.65 497.79 L619.41 498.56 L621.16 499.32 L622.92 500.09 L624.68 500.86 L626.44 501.63 L628.20 502.40" stroke="#000" stroke-width="2.25" stroke-dasharray="11.5 8.625" stroke-dashoffset="0.0"/>
</g>
<path d="M126.8 504.87h14.4 M766.8 504.87h-14.4 M126.8 459.85h14.4 M766.8 459.85h-14.4 M126.8 414.82h14.4 M766.8 414.82h-14.4 M126.8 369.79h14.4 M766.8 369.79h-14.4 M126.8 324.76h14.4 M766.8 324.76h-14.4 M126.8 279.74h14.4 M766.8 279.74h-14.4 M126.8 234.71h14.4 M766.8 234.71h-14.4 M126.8 189.68h14.4 M766.8 189.68h-14.4 M126.8 144.65h14.4 M766.8 144.65h-14.4 M126.8 99.63h14.4 M766.8 99.63h-14.4 M142.15 549.9v-8.6 M142.15 54.6v8.6 M155.13 549.9v-8.6 M155.13 54.6v8.6 M166.37 549.9v-8.6 M166.37 54.6v8.6 M176.29 549.9v-8.6 M176.29 54.6v8.6 M185.16 549.9v-14.4 M185.16 54.6v14.4 M243.53 549.9v-8.6 M243.53 54.6v8.6 M277.67 549.9v-8.6 M277.67 54.6v8.6 M301.89 549.9v-8.6 M301.89 54.6v8.6 M320.68 549.9v-8.6 M320.68 54.6v8.6 M336.03 549.9v-8.6 M336.03 54.6v8.6 M349.01 549.9v-8.6 M349.01 54.6v8.6 M360.25 549.9v-8.6 M360.25 54.6v8.6 M370.17 549.9v-8.6 M370.17 54.6v8.6 M379.04 549.9v-14.4 M379.04 54.6v14.4 M437.41 549.9v-8.6 M437.41 54.6v8.6 M471.55 549.9v-8.6 M471.55 54.6v8.6 M495.77 549.9v-8.6 M495.77 54.6v8.6 M514.56 549.9v-8.6 M514.56 54.6v8.6 M529.91 549.9v-8.6 M529.91 54.6v8.6 M542.89 549.9v-8.6 M542.89 54.6v8.6 M554.13 549.9v-8.6 M554.13 54.6v8.6 M564.05 549.9v-8.6 M564.05 54.6v8.6 M572.92 549.9v-14.4 M572.92 54.6v14.4 M631.28 549.9v-8.6 M631.28 54.6v8.6 M665.42 549.9v-8.6 M665.42 54.6v8.6 M689.65 549.9v-8.6 M689.65 54.6v8.6 M708.44 549.9v-8.6 M708.44 54.6v8.6 M723.79 549.9v-8.6 M723.79 54.6v8.6 M736.77 549.9v-8.6 M736.77 54.6v8.6 M748.01 549.9v-8.6 M748.01 54.6v8.6 M757.93 549.9v-8.6 M757.93 54.6v8.6" stroke="#000" stroke-width="1.8" fill="none"/>
<rect x="126.8" y="54.6" width="640.0" height="495.29999999999995" fill="none" stroke="#000" stroke-width="2.2"/>
<g style="mix-blend-mode:multiply">
<text transform="translate(50.31 556.36) skewY(0.1) scale(0.2618 0.2443)" style="font-family:'Liberation Sans',sans-serif;font-style:normal" font-size="100" fill="#000" stroke="#000" stroke-width="1.3">10</text>
<text transform="translate(80.44 548.43) skewY(0.1) scale(0.2141 0.1964)" style="font-family:'Liberation Sans',sans-serif;font-style:normal" font-size="100" fill="#000" stroke="#000" stroke-width="1.3">−</text>
<text transform="translate(93.42 547.70) skewY(0.1) scale(0.1808 0.1642)" style="font-family:'Liberation Sans',sans-serif;font-style:normal" font-size="100" fill="#000" stroke="#000" stroke-width="1.3">14</text>
<text transform="translate(50.31 511.33) skewY(0.1) scale(0.2618 0.2443)" style="font-family:'Liberation Sans',sans-serif;font-style:normal" font-size="100" fill="#000" stroke="#000" stroke-width="1.3">10</text>
<text transform="translate(80.44 503.40) skewY(0.1) scale(0.2141 0.1964)" style="font-family:'Liberation Sans',sans-serif;font-style:normal" font-size="100" fill="#000" stroke="#000" stroke-width="1.3">−</text>
<text transform="translate(93.40 502.52) skewY(0.1) scale(0.1834 0.1596)" style="font-family:'Liberation Sans',sans-serif;font-style:normal" font-size="100" fill="#000" stroke="#000" stroke-width="1.3">13</text>
<text transform="translate(50.31 466.31) skewY(0.1) scale(0.2618 0.2443)" style="font-family:'Liberation Sans',sans-serif;font-style:normal" font-size="100" fill="#000" stroke="#000" stroke-width="1.3">10</text>
<text transform="translate(80.44 458.38) skewY(0.1) scale(0.2141 0.1964)" style="font-family:'Liberation Sans',sans-serif;font-style:normal" font-size="100" fill="#000" stroke="#000" stroke-width="1.3">−</text>
<text transform="translate(93.39 457.65) skewY(0.1) scale(0.1846 0.1618)" style="font-family:'Liberation Sans',sans-serif;font-style:normal" font-size="100" fill="#000" stroke="#000" stroke-width="1.3">12</text>
<text transform="translate(50.31 421.28) skewY(0.1) scale(0.2618 0.2443)" style="font-family:'Liberation Sans',sans-serif;font-style:normal" font-size="100" fill="#000" stroke="#000" stroke-width="1.3">10</text>
<text transform="translate(80.44 413.35) skewY(0.1) scale(0.2141 0.1964)" style="font-family:'Liberation Sans',sans-serif;font-style:normal" font-size="100" fill="#000" stroke="#000" stroke-width="1.3">−</text>
<text transform="translate(93.40 412.62) skewY(0.1) scale(0.1843 0.1642)" style="font-family:'Liberation Sans',sans-serif;font-style:normal" font-size="100" fill="#000" stroke="#000" stroke-width="1.3">11</text>
<text transform="translate(50.31 376.25) skewY(0.1) scale(0.2618 0.2443)" style="font-family:'Liberation Sans',sans-serif;font-style:normal" font-size="100" fill="#000" stroke="#000" stroke-width="1.3">10</text>
<text transform="translate(80.44 368.32) skewY(0.1) scale(0.2141 0.1964)" style="font-family:'Liberation Sans',sans-serif;font-style:normal" font-size="100" fill="#000" stroke="#000" stroke-width="1.3">−</text>
<text transform="translate(93.41 367.44) skewY(0.1) scale(0.1825 0.1596)" style="font-family:'Liberation Sans',sans-serif;font-style:normal" font-size="100" fill="#000" stroke="#000" stroke-width="1.3">10</text>
<text transform="translate(60.41 331.23) skewY(0.1) scale(0.2618 0.2443)" style="font-family:'Liberation Sans',sans-serif;font-style:normal" font-size="100" fill="#000" stroke="#000" stroke-width="1.3">10</text>
<text transform="translate(90.44 323.29) skewY(0.1) scale(0.2141 0.1964)" style="font-family:'Liberation Sans',sans-serif;font-style:normal" font-size="100" fill="#000" stroke="#000" stroke-width="1.3">−</text>
<text transform="translate(103.32 322.41) skewY(0.1) scale(0.1883 0.1596)" style="font-family:'Liberation Sans',sans-serif;font-style:normal" font-size="100" fill="#000" stroke="#000" stroke-width="1.3">9</text>
<text transform="translate(60.41 286.20) skewY(0.1) scale(0.2618 0.2443)" style="font-family:'Liberation Sans',sans-serif;font-style:normal" font-size="100" fill="#000" stroke="#000" stroke-width="1.3">10</text>
<text transform="translate(90.44 278.27) skewY(0.1) scale(0.2141 0.1964)" style="font-family:'Liberation Sans',sans-serif;font-style:normal" font-size="100" fill="#000" stroke="#000" stroke-width="1.3">−</text>
<text transform="translate(103.39 277.38) skewY(0.1) scale(0.1854 0.1596)" style="font-family:'Liberation Sans',sans-serif;font-style:normal" font-size="100" fill="#000" stroke="#000" stroke-width="1.3">8</text>
<text transform="translate(60.41 241.17) skewY(0.1) scale(0.2618 0.2443)" style="font-family:'Liberation Sans',sans-serif;font-style:normal" font-size="100" fill="#000" stroke="#000" stroke-width="1.3">10</text>
<text transform="translate(90.44 233.24) skewY(0.1) scale(0.2141 0.1964)" style="font-family:'Liberation Sans',sans-serif;font-style:normal" font-size="100" fill="#000" stroke="#000" stroke-width="1.3">−</text>
<text transform="translate(103.22 232.51) skewY(0.1) scale(0.1914 0.1642)" style="font-family:'Liberation Sans',sans-serif;font-style:normal" font-size="100" fill="#000" stroke="#000" stroke-width="1.3">7</text>
<text transform="translate(60.41 196.14) skewY(0.1) scale(0.2618 0.2443)" style="font-family:'Liberation Sans',sans-serif;font-style:normal" font-size="100" fill="#000" stroke="#000" stroke-width="1.3">10</text>
<text transform="translate(90.44 188.21) skewY(0.1) scale(0.2141 0.1964)" style="font-family:'Liberation Sans',sans-serif;font-style:normal" font-size="100" fill="#000" stroke="#000" stroke-width="1.3">−</text>
<text transform="translate(103.24 187.33) skewY(0.1) scale(0.1885 0.1596)" style="font-family:'Liberation Sans',sans-serif;font-style:normal" font-size="100" fill="#000" stroke="#000" stroke-width="1.3">6</text>
<text transform="translate(60.41 151.12) skewY(0.1) scale(0.2618 0.2443)" style="font-family:'Liberation Sans',sans-serif;font-style:normal" font-size="100" fill="#000" stroke="#000" stroke-width="1.3">10</text>
<text transform="translate(90.44 143.18) skewY(0.1) scale(0.2141 0.1964)" style="font-family:'Liberation Sans',sans-serif;font-style:normal" font-size="100" fill="#000" stroke="#000" stroke-width="1.3">−</text>
<text transform="translate(103.47 142.30) skewY(0.1) scale(0.1835 0.1619)" style="font-family:'Liberation Sans',sans-serif;font-style:normal" font-size="100" fill="#000" stroke="#000" stroke-width="1.3">5</text>
<text transform="translate(60.41 106.09) skewY(0.1) scale(0.2618 0.2443)" style="font-family:'Liberation Sans',sans-serif;font-style:normal" font-size="100" fill="#000" stroke="#000" stroke-width="1.3">10</text>
<text transform="translate(90.44 98.16) skewY(0.1) scale(0.2141 0.1964)" style="font-family:'Liberation Sans',sans-serif;font-style:normal" font-size="100" fill="#000" stroke="#000" stroke-width="1.3">−</text>
<text transform="translate(103.80 97.43) skewY(0.1) scale(0.1727 0.1642)" style="font-family:'Liberation Sans',sans-serif;font-style:normal" font-size="100" fill="#000" stroke="#000" stroke-width="1.3">4</text>
<text transform="translate(60.41 61.06) skewY(0.1) scale(0.2618 0.2443)" style="font-family:'Liberation Sans',sans-serif;font-style:normal" font-size="100" fill="#000" stroke="#000" stroke-width="1.3">10</text>
<text transform="translate(90.44 53.13) skewY(0.1) scale(0.2141 0.1964)" style="font-family:'Liberation Sans',sans-serif;font-style:normal" font-size="100" fill="#000" stroke="#000" stroke-width="1.3">−</text>
<text transform="translate(103.50 52.24) skewY(0.1) scale(0.1835 0.1596)" style="font-family:'Liberation Sans',sans-serif;font-style:normal" font-size="100" fill="#000" stroke="#000" stroke-width="1.3">3</text>
<text transform="translate(164.04 579.06) skewY(0.1) scale(0.2658 0.2443)" style="font-family:'Liberation Sans',sans-serif;font-style:normal" font-size="100" fill="#000" stroke="#000" stroke-width="1.3">10</text>
<text transform="translate(194.62 569.90) skewY(0.1) scale(0.1508 0.1672)" style="font-family:'Liberation Sans',sans-serif;font-style:normal" font-size="100" fill="#000" stroke="#000" stroke-width="1.3">1</text>
<text transform="translate(357.92 579.06) skewY(0.1) scale(0.2658 0.2443)" style="font-family:'Liberation Sans',sans-serif;font-style:normal" font-size="100" fill="#000" stroke="#000" stroke-width="1.3">10</text>
<text transform="translate(387.14 569.80) skewY(0.1) scale(0.1800 0.1633)" style="font-family:'Liberation Sans',sans-serif;font-style:normal" font-size="100" fill="#000" stroke="#000" stroke-width="1.3">2</text>
<text transform="translate(551.80 579.06) skewY(0.1) scale(0.2658 0.2443)" style="font-family:'Liberation Sans',sans-serif;font-style:normal" font-size="100" fill="#000" stroke="#000" stroke-width="1.3">10</text>
<text transform="translate(581.26 569.64) skewY(0.1) scale(0.1730 0.1610)" style="font-family:'Liberation Sans',sans-serif;font-style:normal" font-size="100" fill="#000" stroke="#000" stroke-width="1.3">3</text>
<text transform="translate(745.68 579.06) skewY(0.1) scale(0.2658 0.2443)" style="font-family:'Liberation Sans',sans-serif;font-style:normal" font-size="100" fill="#000" stroke="#000" stroke-width="1.3">10</text>
<text transform="translate(775.43 569.80) skewY(0.1) scale(0.1627 0.1657)" style="font-family:'Liberation Sans',sans-serif;font-style:normal" font-size="100" fill="#000" stroke="#000" stroke-width="1.3">4</text>
<text transform="translate(313.04 37.49) skewY(0.1) scale(0.3779 0.3181)" style="font-family:'Liberation Serif',serif;font-style:italic" font-size="100" fill="#000">s</text>
<text transform="translate(327.30 42.41) skewY(0.1) scale(0.2023 0.1975)" style="font-family:'Liberation Serif',serif;font-style:italic" font-size="100" fill="#000">ϵ</text>
<text transform="translate(342.60 40.22) skewY(0.1) scale(0.4620 0.3440)" style="font-family:'Liberation Serif',serif;font-style:normal" font-size="100" fill="#000">=</text>
<text transform="translate(373.00 37.38) skewY(0.1) scale(0.3295 0.3260)" style="font-family:'Liberation Serif',serif;font-style:normal" font-size="100" fill="#000">10</text>
<text transform="translate(406.82 28.73) skewY(0.1) scale(0.2966 0.2811)" style="font-family:'Liberation Serif',serif;font-style:normal" font-size="100" fill="#000">−</text>
<text transform="translate(423.84 25.28) skewY(0.1) scale(0.2231 0.2208)" style="font-family:'Liberation Serif',serif;font-style:normal" font-size="100" fill="#000">10</text>
<text transform="translate(448.20 36.63) skewY(0.1) scale(0.3901 0.3037)" style="font-family:'Liberation Serif',serif;font-style:italic" font-size="100" fill="#000">,</text>
<text transform="translate(468.48 36.70) skewY(0.1) scale(0.3105 0.3101)" style="font-family:'Liberation Serif',serif;font-style:italic" font-size="100" fill="#000">g</text>
<text transform="translate(484.65 42.06) skewY(0.1) scale(0.2269 0.1934)" style="font-family:'Liberation Serif',serif;font-style:italic" font-size="100" fill="#000">D</text>
<text transform="translate(508.20 40.22) skewY(0.1) scale(0.4620 0.3440)" style="font-family:'Liberation Serif',serif;font-style:normal" font-size="100" fill="#000">=</text>
<text transform="translate(539.08 37.60) skewY(0.1) scale(0.2755 0.3272)" style="font-family:'Liberation Serif',serif;font-style:normal" font-size="100" fill="#000">1</text>
<text transform="translate(553.24 37.19) skewY(0.1) scale(0.3131 0.2877)" style="font-family:'Liberation Serif',serif;font-style:normal" font-size="100" fill="#000">.</text>
<text transform="translate(561.81 37.58) skewY(0.1) scale(0.3534 0.3260)" style="font-family:'Liberation Serif',serif;font-style:normal" font-size="100" fill="#000">3</text>
<text transform="translate(368.14 616.00) skewY(0.1) scale(0.3566 0.3312)" style="font-family:'Liberation Serif',serif;font-style:italic" font-size="100" fill="#000">x</text>
<text transform="translate(386.65 615.90) skewY(0.1) scale(0.3076 0.3474)" style="font-family:'Liberation Serif',serif;font-style:normal" font-size="100" fill="#000">(</text>
<text transform="translate(401.65 618.04) skewY(0.1) scale(0.4728 0.3160)" style="font-family:'Liberation Serif',serif;font-style:normal" font-size="100" fill="#000">=</text>
<text transform="translate(432.39 616.00) skewY(0.1) scale(0.4192 0.3226)" style="font-family:'Liberation Serif',serif;font-style:italic" font-size="100" fill="#000">m</text>
<text transform="translate(461.69 620.90) skewY(0.1) scale(0.2029 0.2291)" style="font-family:'Liberation Serif',serif;font-style:normal" font-size="100" fill="#000">Φ</text>
<text transform="translate(480.00 622.35) skewY(0.1) scale(0.4607 0.4634)" style="font-family:'Liberation Serif',serif;font-style:normal" font-size="100" fill="#000">/</text>
<text transform="translate(492.62 615.70) skewY(0.1) scale(0.4092 0.3345)" style="font-family:'Liberation Serif',serif;font-style:italic" font-size="100" fill="#000">T</text>
<text transform="translate(512.96 615.90) skewY(0.1) scale(0.2920 0.3474)" style="font-family:'Liberation Serif',serif;font-style:normal" font-size="100" fill="#000">)</text>
<g transform="rotate(-90)">
<text transform="translate(-368.11 34.20) skewY(0.1) scale(0.3861 0.3421)" style="font-family:'Liberation Serif',serif;font-style:italic" font-size="100" fill="#000">Y</text>
<text transform="translate(-346.52 34.32) skewY(0.1) scale(0.2998 0.3562)" style="font-family:'Liberation Serif',serif;font-style:normal" font-size="100" fill="#000">(</text>
<text transform="translate(-331.15 36.18) skewY(0.1) scale(0.4513 0.3080)" style="font-family:'Liberation Serif',serif;font-style:normal" font-size="100" fill="#000">=</text>
<text transform="translate(-301.48 34.40) skewY(0.1) scale(0.4162 0.3077)" style="font-family:'Liberation Serif',serif;font-style:italic" font-size="100" fill="#000">n</text>
<text transform="translate(-280.00 41.43) skewY(0.1) scale(0.4355 0.4828)" style="font-family:'Liberation Serif',serif;font-style:normal" font-size="100" fill="#000">/</text>
<text transform="translate(-264.92 34.50) skewY(0.1) scale(0.3433 0.3098)" style="font-family:'Liberation Serif',serif;font-style:italic" font-size="100" fill="#000">s</text>
<text transform="translate(-250.92 34.32) skewY(0.1) scale(0.3154 0.3562)" style="font-family:'Liberation Serif',serif;font-style:normal" font-size="100" fill="#000">)</text>
</g>
<text transform="translate(562.28 109.20) skewY(0.1) scale(0.3181 0.2718)" style="font-family:'Liberation Serif',serif;font-style:italic" font-size="100" fill="#000">Y</text>
<text transform="translate(578.59 113.20) skewY(0.1) scale(0.1700 0.2001)" style="font-family:'Liberation Serif',serif;font-style:normal" font-size="100" fill="#000">Φ</text>
<text transform="translate(562.28 146.90) skewY(0.1) scale(0.3181 0.2688)" style="font-family:'Liberation Serif',serif;font-style:italic" font-size="100" fill="#000">Y</text>
<text transform="translate(580.06 151.60) skewY(0.1) scale(0.1764 0.1924)" style="font-family:'Liberation Serif',serif;font-style:italic" font-size="100" fill="#000">A</text>
<text transform="translate(592.40 155.21) skewY(0.1) scale(0.2831 0.2597)" style="font-family:'Liberation Serif',serif;font-style:normal" font-size="100" fill="#000">′</text>
<text transform="translate(695.28 109.20) skewY(0.1) scale(0.3181 0.2718)" style="font-family:'Liberation Serif',serif;font-style:italic" font-size="100" fill="#000">Y</text>
<text transform="translate(713.75 96.72) skewY(0.1) scale(0.1917 0.1585)" style="font-family:'Liberation Serif',serif;font-style:normal" font-size="100" fill="#000">eq</text>
<text transform="translate(711.59 115.90) skewY(0.1) scale(0.1700 0.1970)" style="font-family:'Liberation Serif',serif;font-style:normal" font-size="100" fill="#000">Φ</text>
<text transform="translate(695.28 152.00) skewY(0.1) scale(0.3181 0.2718)" style="font-family:'Liberation Serif',serif;font-style:italic" font-size="100" fill="#000">Y</text>
<text transform="translate(713.75 138.22) skewY(0.1) scale(0.1917 0.1585)" style="font-family:'Liberation Serif',serif;font-style:normal" font-size="100" fill="#000">eq</text>
<text transform="translate(713.06 158.30) skewY(0.1) scale(0.1764 0.1939)" style="font-family:'Liberation Serif',serif;font-style:italic" font-size="100" fill="#000">A</text>
<text transform="translate(725.40 161.56) skewY(0.1) scale(0.2831 0.2682)" style="font-family:'Liberation Serif',serif;font-style:normal" font-size="100" fill="#000">′</text>
<path d="M484.7 100.6H535.8" stroke="#ff0000" stroke-width="2.2"/>
<path d="M484.7 139.1H535.8" stroke="#0000ff" stroke-width="2.2"/>
<path d="M618.2 100.6H668.2" stroke="#ffa500" stroke-width="2.2" stroke-dasharray="11.5 8.625"/>
<path d="M618.2 143.8H668.2" stroke="#32cd32" stroke-width="2.2" stroke-dasharray="11.5 8.625"/>
<g transform="translate(303.15 420.4) rotate(18.8)">
<text transform="skewY(0.1) scale(0.2590 0.2732)" y="0" style="font-family:'Liberation Sans',sans-serif" font-size="100" fill="#000" stroke="#000" stroke-width="2.0" stroke-linejoin="round"><tspan x="0.9" textLength="67.0" lengthAdjust="spacingAndGlyphs">C</tspan><tspan x="72.0" textLength="50.1" lengthAdjust="spacingAndGlyphs">a</tspan><tspan x="133.4" textLength="33.9" lengthAdjust="spacingAndGlyphs">t</tspan><tspan x="172.5" textLength="50.1" lengthAdjust="spacingAndGlyphs">a</tspan><tspan x="234.1" textLength="22.7" lengthAdjust="spacingAndGlyphs">l</tspan><tspan x="262.1" textLength="53.7" lengthAdjust="spacingAndGlyphs">y</tspan><tspan x="318.5" textLength="53.6" lengthAdjust="spacingAndGlyphs">z</tspan><tspan x="372.0" textLength="60.1" lengthAdjust="spacingAndGlyphs">e</tspan><tspan x="433.5" textLength="60.4" lengthAdjust="spacingAndGlyphs">d</tspan><tspan x="496.0"> </tspan><tspan x="530.0" textLength="50.1" lengthAdjust="spacingAndGlyphs">a</tspan><tspan x="591.0" textLength="60.0" lengthAdjust="spacingAndGlyphs">n</tspan><tspan x="654.4" textLength="60.0" lengthAdjust="spacingAndGlyphs">n</tspan><tspan x="718.5" textLength="22.7" lengthAdjust="spacingAndGlyphs">i</tspan><tspan x="745.2" textLength="60.4" lengthAdjust="spacingAndGlyphs">h</tspan><tspan x="809.6" textLength="22.7" lengthAdjust="spacingAndGlyphs">i</tspan><tspan x="837.4" textLength="22.7" lengthAdjust="spacingAndGlyphs">l</tspan><tspan x="864.8" textLength="50.1" lengthAdjust="spacingAndGlyphs">a</tspan><tspan x="926.2" textLength="33.9" lengthAdjust="spacingAndGlyphs">t</tspan><tspan x="965.7" textLength="22.7" lengthAdjust="spacingAndGlyphs">i</tspan><tspan x="991.9" textLength="59.1" lengthAdjust="spacingAndGlyphs">o</tspan><tspan x="1054.0" textLength="60.0" lengthAdjust="spacingAndGlyphs">n</tspan></text>
</g>
</g>
</svg>
</body></html>
